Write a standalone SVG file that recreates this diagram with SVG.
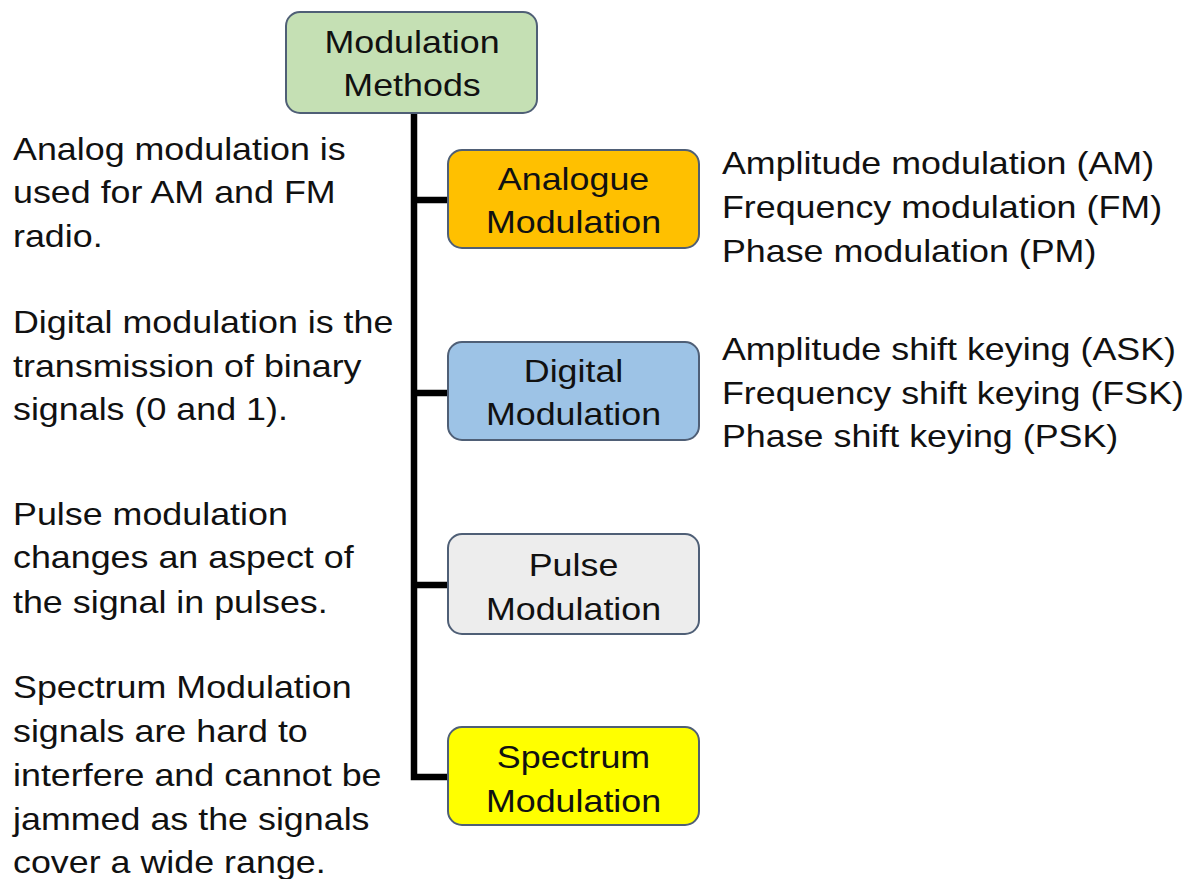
<svg xmlns="http://www.w3.org/2000/svg" width="1193" height="879" viewBox="0 0 1193 879">
  <style>
    text { font-family: "Liberation Sans", Arial, sans-serif; font-size: 32px; fill: #111; }
    .c { text-anchor: middle; }
    .box { stroke: #4f5f76; stroke-width: 2; }
    .wire { fill: none; stroke: #000; stroke-width: 6.5; stroke-linejoin: miter; }
  </style>

  <rect width="1193" height="879" fill="#fff"/>

  <!-- trunk and branches -->
  <g id="connectors">
    <path class="wire" d="M414,113 V777 H449"/>
    <path class="wire" d="M414,200 H449"/>
    <path class="wire" d="M414,393 H449"/>
    <path class="wire" d="M414,585 H449"/>
  </g>

  <!-- root -->
  <g id="node-root">
    <rect class="box" x="286" y="12" width="251" height="101" rx="14" fill="#c5e0b4"/>
    <text class="c" transform="scale(1.12 1)" x="367.9" y="53">Modulation</text>
    <text class="c" transform="scale(1.12 1)" x="367.9" y="96">Methods</text>
  </g>

  <!-- categories -->
  <g id="node-analogue">
    <rect class="box" x="448" y="150" width="251" height="98" rx="14" fill="#ffc000"/>
    <text class="c" transform="scale(1.12 1)" x="512.1" y="190">Analogue</text>
    <text class="c" transform="scale(1.12 1)" x="512.1" y="233">Modulation</text>
  </g>

  <g id="node-digital">
    <rect class="box" x="448" y="342" width="251" height="98" rx="14" fill="#9dc3e6"/>
    <text class="c" transform="scale(1.12 1)" x="512.1" y="382">Digital</text>
    <text class="c" transform="scale(1.12 1)" x="512.1" y="425">Modulation</text>
  </g>

  <g id="node-pulse">
    <rect class="box" x="448" y="534" width="251" height="100" rx="14" fill="#ededed"/>
    <text class="c" transform="scale(1.12 1)" x="512.1" y="576">Pulse</text>
    <text class="c" transform="scale(1.12 1)" x="512.1" y="620">Modulation</text>
  </g>

  <g id="node-spectrum">
    <rect class="box" x="448" y="727" width="251" height="98" rx="14" fill="#ffff00"/>
    <text class="c" transform="scale(1.12 1)" x="512.1" y="768">Spectrum</text>
    <text class="c" transform="scale(1.12 1)" x="512.1" y="812">Modulation</text>
  </g>

  <!-- technique lists -->
  <g id="list-analogue" transform="scale(1.12 1)">
    <text x="644.6" y="174">Amplitude modulation (AM)</text>
    <text x="644.6" y="218">Frequency modulation (FM)</text>
    <text x="644.6" y="262">Phase modulation (PM)</text>
  </g>

  <g id="list-digital" transform="scale(1.12 1)">
    <text x="644.6" y="360">Amplitude shift keying (ASK)</text>
    <text x="644.6" y="404">Frequency shift keying (FSK)</text>
    <text x="644.6" y="447">Phase shift keying (PSK)</text>
  </g>

  <!-- descriptions -->
  <g id="notes" transform="scale(1.12 1)">
    <text x="11.6" y="160">Analog modulation is</text>
    <text x="11.6" y="203">used for AM and FM</text>
    <text x="11.6" y="247">radio.</text>

    <text x="11.6" y="333">Digital modulation is the</text>
    <text x="11.6" y="377">transmission of binary</text>
    <text x="11.6" y="420">signals (0 and 1).</text>

    <text x="11.6" y="525">Pulse modulation</text>
    <text x="11.6" y="568">changes an aspect of</text>
    <text x="11.6" y="613">the signal in pulses.</text>

    <text x="11.6" y="698">Spectrum Modulation</text>
    <text x="11.6" y="742">signals are hard to</text>
    <text x="11.6" y="786">interfere and cannot be</text>
    <text x="11.6" y="830">jammed as the signals</text>
    <text x="11.6" y="873">cover a wide range.</text>
  </g>
</svg>
